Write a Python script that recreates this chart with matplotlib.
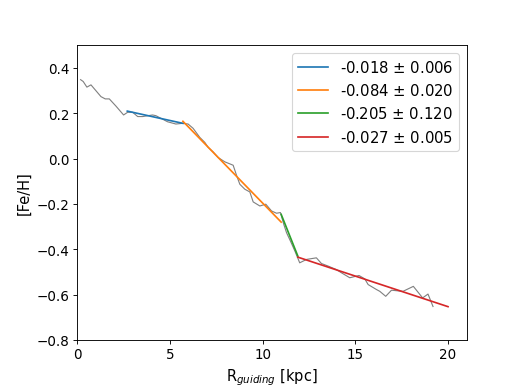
#!/usr/bin/env python3
"""Radial [Fe/H] gradient vs guiding radius with piecewise linear fits."""

import matplotlib
matplotlib.use("Agg")
import matplotlib.pyplot as plt
import numpy as np

# running median profile
r_guiding = [0.18, 0.32, 0.52, 0.74, 1.01, 1.28, 1.51, 1.73, 2.09, 2.50,
             2.72, 2.99, 3.26, 3.53, 4.06, 4.24, 4.87, 5.32, 5.68, 5.98,
             6.25, 6.61, 6.88, 7.06, 7.33, 7.60, 7.96, 8.41, 8.59, 8.77,
             9.04, 9.31, 9.49, 9.85, 10.17, 10.48, 10.75, 10.96, 11.14, 11.29,
             11.50, 11.74, 12.00, 12.37, 12.90, 13.17, 13.55, 13.98, 14.25, 14.70,
             15.20, 15.51, 15.69, 16.14, 16.32, 16.64, 16.95, 17.57, 18.13, 18.63,
             18.92, 19.19]
feh = [0.349, 0.341, 0.316, 0.326, 0.300, 0.274, 0.264, 0.264, 0.232, 0.193,
       0.205, 0.205, 0.186, 0.186, 0.193, 0.190, 0.163, 0.153, 0.156, 0.153,
       0.134, 0.094, 0.072, 0.050, 0.030, 0.005, -0.014, -0.029, -0.073, -0.113,
       -0.135, -0.147, -0.191, -0.209, -0.201, -0.231, -0.241, -0.238, -0.290, -0.327,
       -0.364, -0.408, -0.460, -0.445, -0.438, -0.463, -0.475, -0.490, -0.504, -0.526,
       -0.516, -0.531, -0.556, -0.578, -0.586, -0.608, -0.581, -0.586, -0.564, -0.615,
       -0.598, -0.653]

# piecewise fits: range, slope, intercept, slope error
fit_start = [2.7, 5.7, 11.0, 11.9]
fit_end = [5.7, 11.0, 11.9, 20.0]
fit_slope = [-0.018, -0.084, -0.205, -0.027]
fit_slope_err = [0.006, 0.020, 0.120, 0.005]
fit_intercept = [0.2586, 0.6438, 2.009, -0.1137]
fit_colors = ["#1f77b4", "#ff7f0e", "#2ca02c", "#d62728"]

plt.rcParams["font.size"] = 12

fig, ax = plt.subplots(figsize=(6.4, 4.8), dpi=81)
fig.subplots_adjust(left=0.149, right=0.9, top=0.881, bottom=0.124)

ax.plot(r_guiding, feh, color="gray", linewidth=1.0)

for x0, x1, m, dm, b, c in zip(fit_start, fit_end, fit_slope, fit_slope_err,
                               fit_intercept, fit_colors):
    xs = np.array([x0, x1])
    ax.plot(xs, m * xs + b, color=c, linewidth=1.5,
            label=f"{m:.3f} $\\pm$ {dm:.3f}")

ax.set_xlim(0, 21)
ax.set_ylim(-0.8, 0.5)
ax.set_xticks([0, 5, 10, 15, 20])
ax.set_yticks([-0.8, -0.6, -0.4, -0.2, 0.0, 0.2, 0.4])
ax.set_xlabel(r"R$_{guiding}$ [kpc]", fontsize=13)
ax.set_ylabel("[Fe/H]", fontsize=13)
ax.legend(loc="upper right", fontsize=13.2)

fig.savefig("out.png", dpi=81)
